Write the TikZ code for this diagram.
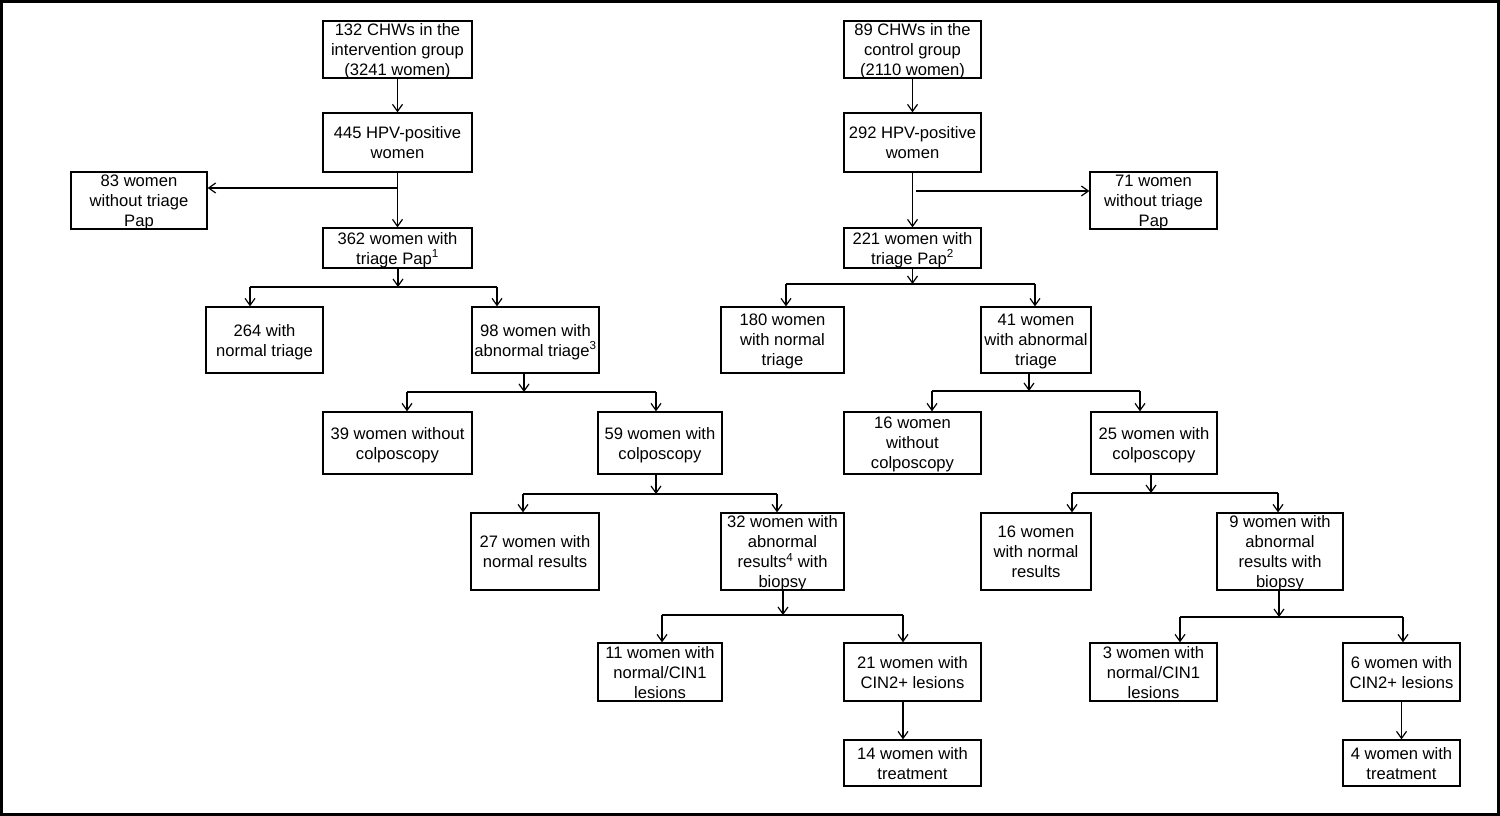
\documentclass[tikz,border=0pt]{standalone}
\usepackage{fontspec}
\setmainfont{Liberation Sans}
\usetikzlibrary{arrows.meta}

\begin{document}
\begin{tikzpicture}[x=1pt, y=-1pt,
        box/.style 2 args={draw, line width=1.3pt, fill=white, inner sep=0pt, align=center,
            text depth=0pt, minimum width=#1pt, minimum height=#2pt,
            font=\fontsize{16.6}{20}\selectfont},
        arr/.style={line width=1.2pt, -{Straight Barb[length=7pt, width=10pt]}},
        bar/.style={line width=2.7pt}]
        \useasboundingbox (0, 0) rectangle (1500, 816);
        \draw[line width=3pt] (1.5, 1.5) rectangle (1498.5, 814.5);

        % intervention group
        \node[box={149}{57}] (L1) at (397.5, 49.5) {132 CHWs in the\\intervention group\\(3241 women)};
        \node[box={149}{59}] (L2) at (397.5, 142.5) {445 HPV-positive\\women};
        \node[box={136}{57}] (L3) at (139, 200.5) {83 women\\without triage\\Pap};
        \node[box={149}{40}] (L4) at (397.5, 248) {362 women with\\triage Pap\textsuperscript{1}};
        \node[box={117}{66}] (L5) at (264.5, 340) {264 with\\normal triage};
        \node[box={127}{66}] (L6) at (535.5, 340) {98 women with\\abnormal triage\textsuperscript{3}};
        \node[box={149}{62}] (L7) at (397.5, 443) {39 women without\\colposcopy};
        \node[box={124}{62}] (L8) at (660, 443) {59 women with\\colposcopy};
        \node[box={128}{77}] (L9) at (535, 551.5) {27 women with\\normal results};
        \node[box={123}{77}] (L10) at (782.5, 551.5) {32 women with\\abnormal\\results\textsuperscript{4} with\\biopsy};
        \node[box={124}{58}] (L11) at (660, 672) {11 women with\\normal/CIN1\\lesions};
        \node[box={137}{58}] (L12) at (912.5, 672) {21 women with\\CIN2+ lesions};
        \node[box={137}{46}] (L13) at (912.5, 763) {14 women with\\treatment};

        % control group
        \node[box={137}{57}] (R1) at (912.5, 49.5) {89 CHWs in the\\control group\\(2110 women)};
        \node[box={137}{59}] (R2) at (912.5, 142.5) {292 HPV-positive\\women};
        \node[box={127}{57}] (R3) at (1153.5, 200.5) {71 women\\without triage\\Pap};
        \node[box={137}{40}] (R4) at (912.5, 248) {221 women with\\triage Pap\textsuperscript{2}};
        \node[box={123}{66}] (R5) at (782.5, 340) {180 women\\with normal\\triage};
        \node[box={110}{66}] (R6) at (1036, 340) {41 women\\with abnormal\\triage};
        \node[box={137}{62}] (R7) at (912.5, 443) {16 women\\without\\colposcopy};
        \node[box={126}{62}] (R8) at (1154, 443) {25 women with\\colposcopy};
        \node[box={110}{77}] (R9) at (1036, 551.5) {16 women\\with normal\\results};
        \node[box={126}{77}] (R10) at (1280, 551.5) {9 women with\\abnormal\\results with\\biopsy};
        \node[box={127}{58}] (R11) at (1153.5, 672) {3 women with\\normal/CIN1\\lesions};
        \node[box={117}{58}] (R12) at (1401.5, 672) {6 women with\\CIN2+ lesions};
        \node[box={117}{46}] (R13) at (1401.5, 763) {4 women with\\treatment};

        % split points on the bars
        \coordinate (LJ) at (397.5, 188);
        \coordinate (LC) at (398, 287);   \coordinate (LCa) at (250, 287);  \coordinate (LCb) at (497, 287);
        \coordinate (LD) at (524, 392);   \coordinate (LDa) at (407, 392);  \coordinate (LDb) at (656, 392);
        \coordinate (LE) at (656, 494);   \coordinate (LEa) at (523, 494);  \coordinate (LEb) at (777, 494);
        \coordinate (LF) at (783, 615);   \coordinate (LFa) at (662, 615);  \coordinate (LFb) at (903, 615);
        \coordinate (RJ) at (916, 191);
        \coordinate (RC) at (912.5, 284); \coordinate (RCa) at (786, 284);  \coordinate (RCb) at (1035, 284);
        \coordinate (RD) at (1029, 391);  \coordinate (RDa) at (932, 391);  \coordinate (RDb) at (1140, 391);
        \coordinate (RE) at (1151, 493);  \coordinate (REa) at (1072, 493); \coordinate (REb) at (1278, 493);
        \coordinate (RF) at (1279, 617);  \coordinate (RFa) at (1180, 617); \coordinate (RFb) at (1403, 617);

        % left tree
        \draw[arr] (L1) -- (L2);
        \draw[arr] (L2) -- (L4);
        \draw[arr] (LJ) -- (LJ -| L3.east);

        \draw[arr] (L4.south -| LC) -- (LC);
        \draw[bar] (LCa) -- (LCb);
        \draw[arr] (LCa) -- (LCa |- L5.north);
        \draw[arr] (LCb) -- (LCb |- L6.north);

        \draw[arr] (L6.south -| LD) -- (LD);
        \draw[bar] (LDa) -- (LDb);
        \draw[arr] (LDa) -- (LDa |- L7.north);
        \draw[arr] (LDb) -- (LDb |- L8.north);

        \draw[arr] (L8.south -| LE) -- (LE);
        \draw[bar] (LEa) -- (LEb);
        \draw[arr] (LEa) -- (LEa |- L9.north);
        \draw[arr] (LEb) -- (LEb |- L10.north);

        \draw[arr] (L10.south -| LF) -- (LF);
        \draw[bar] (LFa) -- (LFb);
        \draw[arr] (LFa) -- (LFa |- L11.north);
        \draw[arr] (LFb) -- (LFb |- L12.north);
        \draw[arr] (L12.south -| LFb) -- (L13.north -| LFb);

        % right tree
        \draw[arr] (R1) -- (R2);
        \draw[arr] (R2) -- (R4);
        \draw[arr] (RJ) -- (RJ -| R3.west);

        \draw[arr] (R4.south -| RC) -- (RC);
        \draw[bar] (RCa) -- (RCb);
        \draw[arr] (RCa) -- (RCa |- R5.north);
        \draw[arr] (RCb) -- (RCb |- R6.north);

        \draw[arr] (R6.south -| RD) -- (RD);
        \draw[bar] (RDa) -- (RDb);
        \draw[arr] (RDa) -- (RDa |- R7.north);
        \draw[arr] (RDb) -- (RDb |- R8.north);

        \draw[arr] (R8.south -| RE) -- (RE);
        \draw[bar] (REa) -- (REb);
        \draw[arr] (REa) -- (REa |- R9.north);
        \draw[arr] (REb) -- (REb |- R10.north);

        \draw[arr] (R10.south -| RF) -- (RF);
        \draw[bar] (RFa) -- (RFb);
        \draw[arr] (RFa) -- (RFa |- R11.north);
        \draw[arr] (RFb) -- (RFb |- R12.north);
        \draw[arr] (R12) -- (R13);
\end{tikzpicture}
\end{document}
